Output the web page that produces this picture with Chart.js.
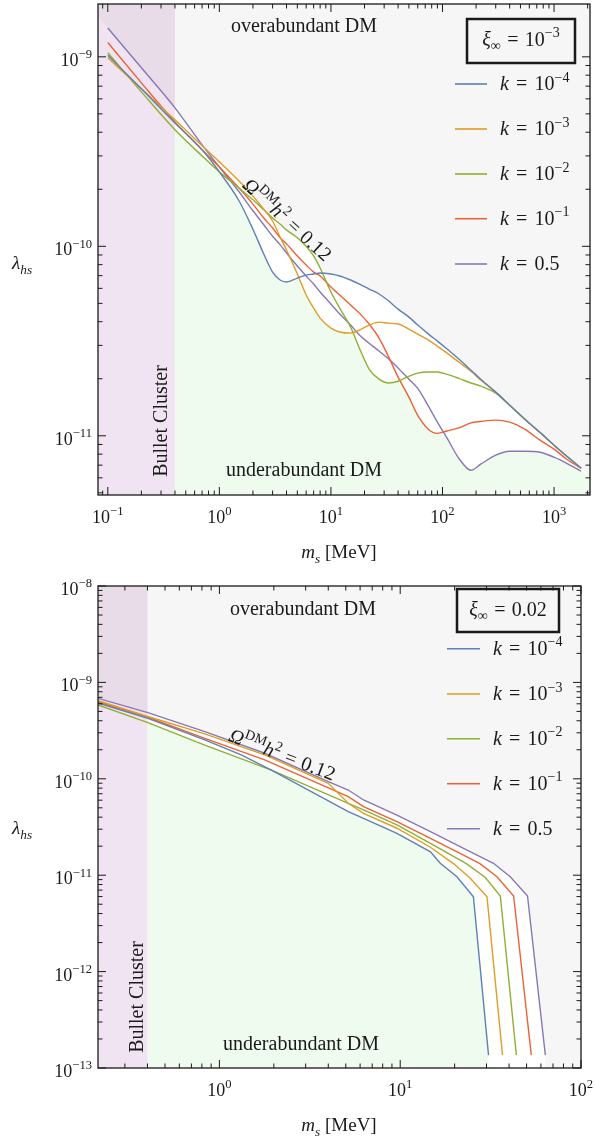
<!DOCTYPE html>
<html>
<head>
<meta charset="utf-8">
<script src="https://cdn.jsdelivr.net/npm/chart.js@4.4.0/dist/chart.umd.min.js"></script>
<style>
  html, body { margin: 0; padding: 0; background: #fff; }
  #wrap { position: relative; width: 595px; height: 1139px; }
  canvas { position: absolute; left: 0; }
</style>
</head>
<body>
<div id="wrap">
  <canvas id="top" width="595" height="565" style="top:0;width:595px;height:565px"></canvas>
  <canvas id="bottom" width="595" height="574" style="top:565px;width:595px;height:574px"></canvas>
</div>
<script>
// legend values of k and line colours
const kLabels = ["1e-4", "1e-3", "1e-2", "1e-1", "0.5"];
const lineColors = ["#5E81B5", "#E19C24", "#8FB032", "#EB6235", "#8778B3"];
const bulletMax = 0.4; // MeV, bullet cluster bound

// --- xi_inf = 1e-3 (top) ---
const massTop = [0.1, 0.2, 0.4, 0.7, 1, 1.5, 2, 2.5, 3, 3.5, 4, 5, 6, 7, 8, 10, 12, 15, 18, 22, 27, 33, 40, 50, 60, 75, 90, 110, 140, 180, 220, 300, 400, 550, 750, 1000, 1300, 1750];
const lamTopK4 = [1.02e-9, 6.78e-10, 4.48e-10, 3.23e-10, 2.47e-10, 1.74e-10, 1.23e-10, 9.11e-11, 7.31e-11, 6.64e-11, 6.48e-11, 6.80e-11, 7.05e-11, 7.14e-11, 7.23e-11, 7.14e-11, 6.97e-11, 6.64e-11, 6.32e-11, 5.95e-11, 5.60e-11, 5.14e-11, 4.66e-11, 4.23e-11, 3.84e-11, 3.44e-11, 3.16e-11, 2.87e-11, 2.54e-11, 2.22e-11, 1.99e-11, 1.70e-11, 1.45e-11, 1.22e-11, 1.04e-11, 8.92e-12, 7.80e-12, 6.74e-12];
const lamTopK3 = [9.88e-10, 6.78e-10, 4.65e-10, 3.39e-10, 2.79e-10, 2.21e-10, 1.84e-10, 1.57e-10, 1.36e-10, 1.12e-10, 9.56e-11, 7.14e-11, 5.53e-11, 4.72e-11, 4.18e-11, 3.70e-11, 3.53e-11, 3.48e-11, 3.61e-11, 3.84e-11, 3.98e-11, 3.93e-11, 3.89e-11, 3.66e-11, 3.44e-11, 3.20e-11, 2.97e-11, 2.73e-11, 2.45e-11, 2.19e-11, 1.97e-11, 1.70e-11, 1.45e-11, 1.22e-11, 1.04e-11, 8.92e-12, 7.80e-12, 6.74e-12];
const lamTopK2 = [1.05e-9, 6.53e-10, 4.12e-10, 3.00e-10, 2.47e-10, 2.03e-10, 1.76e-10, 1.56e-10, 1.41e-10, 1.31e-10, 1.22e-10, 1.11e-10, 1.00e-10, 8.89e-11, 7.68e-11, 5.74e-11, 4.72e-11, 3.75e-11, 2.90e-11, 2.25e-11, 1.99e-11, 1.90e-11, 1.94e-11, 2.06e-11, 2.14e-11, 2.17e-11, 2.17e-11, 2.11e-11, 2.01e-11, 1.90e-11, 1.83e-11, 1.68e-11, 1.45e-11, 1.22e-11, 1.04e-11, 8.92e-12, 7.80e-12, 6.74e-12];
const lamTopK1 = [1.19e-9, 7.29e-10, 4.53e-10, 3.23e-10, 2.62e-10, 2.03e-10, 1.67e-10, 1.41e-10, 1.25e-10, 1.11e-10, 1.03e-10, 8.89e-11, 7.96e-11, 7.31e-11, 6.97e-11, 6.10e-11, 5.53e-11, 4.90e-11, 4.44e-11, 3.89e-11, 3.28e-11, 2.60e-11, 2.04e-11, 1.60e-11, 1.28e-11, 1.08e-11, 1.03e-11, 1.06e-11, 1.10e-11, 1.17e-11, 1.19e-11, 1.21e-11, 1.18e-11, 1.08e-11, 9.48e-12, 8.50e-12, 7.52e-12, 6.74e-12];
const lamTopK05 = [1.42e-9, 8.75e-10, 5.38e-10, 3.43e-10, 2.62e-10, 1.94e-10, 1.54e-10, 1.30e-10, 1.13e-10, 1.02e-10, 9.22e-11, 7.87e-11, 6.97e-11, 6.32e-11, 5.74e-11, 4.96e-11, 4.39e-11, 3.84e-11, 3.40e-11, 3.08e-11, 2.80e-11, 2.54e-11, 2.28e-11, 1.99e-11, 1.78e-11, 1.43e-11, 1.18e-11, 9.71e-12, 7.61e-12, 6.58e-12, 7.08e-12, 7.90e-12, 8.29e-12, 8.29e-12, 8.19e-12, 7.71e-12, 7.16e-12, 6.50e-12];
const xTicksTop = [0.1, 1, 10, 100, 1000];
const yTicksTop = [1e-9, 1e-10, 1e-11];

// --- xi_inf = 0.02 (bottom) ---
const massBotK4 = [0.213, 0.402, 0.83, 1.32, 1.94, 5.16, 6.27, 9.59, 14.7, 16.65, 20.6, 25.4, 30.8];
const lamBotK4 = [6.11e-10, 4.24e-10, 2.53e-10, 1.77e-10, 1.23e-10, 4.56e-11, 3.89e-11, 2.72e-11, 1.75e-11, 1.33e-11, 9.65e-12, 5.98e-12, 1.36e-13];
const massBotK3 = [0.213, 0.402, 0.83, 1.78, 4.0, 5.16, 6.27, 9.59, 14.7, 19.7, 24.4, 30.2, 36.8];
const lamBotK3 = [6.46e-10, 4.43e-10, 2.92e-10, 1.77e-10, 8.98e-11, 5.57e-11, 4.39e-11, 3.07e-11, 1.95e-11, 1.32e-11, 9.29e-12, 5.98e-12, 1.36e-13];
const massBotK2 = [0.213, 0.402, 0.83, 1.94, 5.16, 6.27, 9.59, 14.7, 23.2, 29.5, 35.8, 43.9];
const lamBotK2 = [5.83e-10, 3.82e-10, 2.24e-10, 1.23e-10, 5.57e-11, 4.75e-11, 3.32e-11, 2.14e-11, 1.32e-11, 9.51e-12, 6.08e-12, 1.36e-13];
const massBotK1 = [0.213, 0.402, 0.83, 1.78, 5.16, 6.27, 9.59, 14.7, 22.4, 27.6, 34.3, 42.4, 53.1];
const lamBotK1 = [6.31e-10, 4.35e-10, 2.63e-10, 1.57e-10, 6.52e-11, 5.14e-11, 3.59e-11, 2.41e-11, 1.62e-11, 1.32e-11, 9.65e-12, 6.08e-12, 1.36e-13];
const massBotK05 = [0.213, 0.402, 0.83, 1.78, 4.0, 5.16, 6.27, 9.59, 14.7, 22.4, 32.8, 40.6, 50.6, 63.5];
const lamBotK05 = [6.84e-10, 4.85e-10, 3.08e-10, 1.84e-10, 9.33e-11, 7.65e-11, 6.03e-11, 4.21e-11, 2.83e-11, 1.90e-11, 1.33e-11, 9.65e-12, 6.08e-12, 1.36e-13];
const xTicksBot = [1, 10, 100];
const yTicksBot = [1e-8, 1e-9, 1e-10, 1e-11, 1e-12, 1e-13];

const FONT = "'Liberation Serif', 'DejaVu Serif', serif";
const INK = "#1a1a1a";

// draws a row of text pieces (italic / sup / sub), numbers are gaps in em
function rich(ctx, parts, x, y, align, size) {
  const segs = parts.map(p => {
    if (typeof p === "number") return { gap: p * size };
    const s = size * (p.sup || p.sub ? 0.7 : 1);
    const font = (p.i ? "italic " : "") + s + "px " + FONT;
    ctx.font = font;
    return { t: p.t, font, w: ctx.measureText(p.t).width, dy: p.sup ? -size * 0.42 : p.sub ? size * 0.24 : 0 };
  });
  const total = segs.reduce((a, s) => a + (s.gap !== undefined ? s.gap : s.w), 0);
  let cx = align === "center" ? x - total / 2 : align === "right" ? x - total : x;
  ctx.textAlign = "left";
  ctx.textBaseline = "alphabetic";
  segs.forEach(s => {
    if (s.gap !== undefined) { cx += s.gap; return; }
    ctx.font = s.font;
    ctx.fillText(s.t, cx, y + s.dy);
    cx += s.w;
  });
}

function expParts(v) {
  const e = Math.round(Math.log10(v));
  return [{ t: "10" }, { t: (e < 0 ? "\u2212" + (-e) : String(e)), sup: 1 }];
}

function kParts(lbl) {
  const head = [{ t: "k", i: 1 }, 0.36, { t: "=" }, 0.36];
  if (lbl.startsWith("1e")) return head.concat([{ t: "10" }, { t: "\u2212" + lbl.slice(3), sup: 1 }]);
  return head.concat([{ t: lbl }]);
}

function logInterp(xs, ys, x) {
  if (x < xs[0] || x > xs[xs.length - 1]) return null;
  for (let i = 0; i < xs.length - 1; i++) {
    if (x >= xs[i] && x <= xs[i + 1]) {
      const t = Math.log(x / xs[i]) / Math.log(xs[i + 1] / xs[i]);
      return Math.exp(Math.log(ys[i]) + t * Math.log(ys[i + 1] / ys[i]));
    }
  }
  return ys[ys.length - 1];
}

// carry the last slope of an edge out to a given x (log-log)
function extend(p, q, x) {
  const t = Math.log(x / p.x) / Math.log(q.x / p.x);
  return { x, y: Math.exp(Math.log(p.y) + t * Math.log(q.y / p.y)) };
}

// upper / lower edge of the bundle of curves
function envelope(series, upper, fromX, span) {
  let grid = [];
  series.forEach(s => grid.push(...s.x));
  if (fromX) grid.push(fromX);
  grid = [...new Set(grid)].sort((p, q) => p - q);
  const pts = [];
  grid.forEach(x => {
    if (fromX && x < fromX) return;
    const vals = series.map(s => logInterp(s.x, s.y, x));
    if (!upper && vals.some(v => v === null)) return;
    const ok = vals.filter(v => v !== null);
    if (!ok.length) return;
    pts.push({ x, y: upper ? Math.max(...ok) : Math.min(...ok) });
  });
  if (span) {
    const n = pts.length;
    if (!fromX && span[0] < pts[0].x) pts.unshift(extend(pts[0], pts[1], span[0]));
    if (span[1] > pts[n - 1].x) pts.push(extend(pts[n - 2], pts[n - 1], span[1]));
  }
  return pts;
}

const decor = {
  top: {
    over: [304, 32], under: [304, 476], bullet: [167, 421],
    omega: [287, 220, 42.5],
    box: [467, 19, 575, 63], title: [{ t: "\u03BE", i: 1 }, { t: "\u221E", sub: 1 }, 0.32, { t: "=" }, 0.32, { t: "10" }, { t: "\u22123", sup: 1 }],
    titleY: 45.5, legX: [455, 487], legY: [84, 129, 174, 218.7, 264], legTextX: 500,
    xTicks: xTicksTop, yTicks: yTicksTop, xTitleX: 339, lamY: 269
  },
  bottom: {
    over: [303, 49.5], under: [301, 485], bullet: [143, 432],
    omega: [282, 190, 21],
    box: [457, 24, 559, 67], title: [{ t: "\u03BE", i: 1 }, { t: "\u221E", sub: 1 }, 0.32, { t: "=" }, 0.32, { t: "0.02" }],
    titleY: 50.5, legX: [447, 480], legY: [83.7, 129, 173.7, 218.7, 263.7], legTextX: 493,
    xTicks: xTicksBot, yTicks: yTicksBot, xTitleX: 339, lamY: 269
  }
};

function line(ctx, x1, y1, x2, y2) {
  ctx.beginPath(); ctx.moveTo(x1, y1); ctx.lineTo(x2, y2); ctx.stroke();
}

function drawTicks(ctx, scale, a, horizontal) {
  for (let e = Math.floor(Math.log10(scale.min)); e <= Math.ceil(Math.log10(scale.max)); e++) {
    for (let m = 1; m <= 9; m++) {
      const v = m * Math.pow(10, e);
      if (v < scale.min * 0.999 || v > scale.max * 1.001) continue;
      const p = scale.getPixelForValue(v);
      const len = m === 1 ? 8 : 4.5;
      if (horizontal) { line(ctx, p, a.bottom, p, a.bottom - len); line(ctx, p, a.top, p, a.top + len); }
      else { line(ctx, a.left, p, a.left + len, p); line(ctx, a.right, p, a.right - len, p); }
    }
  }
}

const panelDecor = {
  id: "panelDecor",
  beforeDatasetsDraw(chart) {
    const a = chart.chartArea, ctx = chart.ctx;
    ctx.save();
    ctx.fillStyle = "#f6f6f6";
    ctx.fillRect(a.left, a.top, a.right - a.left, a.bottom - a.top);
    ctx.restore();
  },
  afterDatasetDraw(chart, args) {
    if (chart.data.datasets[args.index].role !== "lower") return;
    const a = chart.chartArea, ctx = chart.ctx;
    const xb = chart.scales.x.getPixelForValue(bulletMax);
    ctx.save();
    ctx.globalCompositeOperation = "multiply";
    ctx.fillStyle = "#f1e4f2";
    ctx.fillRect(a.left, a.top, xb - a.left, a.bottom - a.top);
    ctx.restore();
  },
  afterDatasetsDraw(chart) {
    const d = decor[chart.canvas.id];
    const a = chart.chartArea, ctx = chart.ctx;
    const xs = chart.scales.x, ys = chart.scales.y;
    ctx.save();
    ctx.fillStyle = INK;
    ctx.strokeStyle = INK;

    rich(ctx, [{ t: "overabundant DM" }], d.over[0], d.over[1], "center", 20);
    rich(ctx, [{ t: "underabundant DM" }], d.under[0], d.under[1], "center", 20);

    ctx.save();
    ctx.translate(d.bullet[0], d.bullet[1]);
    ctx.rotate(-Math.PI / 2);
    rich(ctx, [{ t: "Bullet Cluster" }], 0, 0, "center", 20);
    ctx.restore();

    ctx.save();
    ctx.translate(d.omega[0], d.omega[1]);
    ctx.rotate(d.omega[2] * Math.PI / 180);
    rich(ctx, [{ t: "\u03A9", i: 1 }, { t: "DM", sup: 1 }, { t: "h", i: 1 }, { t: "2", sup: 1 }, 0.3, { t: "=" }, 0.3, { t: "0.12" }], 0, 6, "center", 20);
    ctx.restore();

    // legend
    const b = d.box;
    ctx.lineWidth = 2.5;
    ctx.strokeRect(b[0], b[1], b[2] - b[0], b[3] - b[1]);
    rich(ctx, d.title, (b[0] + b[2]) / 2, d.titleY, "center", 20);
    d.legY.forEach((y, i) => {
      ctx.strokeStyle = lineColors[i];
      ctx.lineWidth = 1.6;
      line(ctx, d.legX[0], y, d.legX[1], y);
      rich(ctx, kParts(kLabels[i]), d.legTextX, y + 6, "left", 20);
    });

    // frame and ticks
    ctx.strokeStyle = INK;
    ctx.lineWidth = 1;
    drawTicks(ctx, xs, a, true);
    drawTicks(ctx, ys, a, false);
    ctx.lineWidth = 1.3;
    ctx.strokeRect(a.left, a.top, a.right - a.left, a.bottom - a.top);

    d.xTicks.forEach(v => rich(ctx, expParts(v), xs.getPixelForValue(v), a.bottom + 28, "center", 18));
    d.yTicks.forEach(v => rich(ctx, expParts(v), 92, ys.getPixelForValue(v) + 9, "right", 18));

    rich(ctx, [{ t: "m", i: 1 }, { t: "s", i: 1, sub: 1 }, 0.25, { t: "[MeV]" }], d.xTitleX, a.bottom + 63, "center", 19);
    rich(ctx, [{ t: "\u03BB", i: 1 }, { t: "hs", i: 1, sub: 1 }], 12, d.lamY, "left", 19);
    ctx.restore();
  }
};

function makePanel(id, series, smooth, xr, yr, pad) {
  const mode = smooth ? "monotone" : "default";
  const datasets = series.map((s, i) => ({
    data: s.x.map((m, j) => ({ x: m, y: s.y[j] })),
    borderColor: lineColors[i],
    borderWidth: 1.4,
    pointRadius: 0,
    fill: false,
    cubicInterpolationMode: mode,
    tension: 0,
    order: i
  }));
  // the shaded regions follow the bundle edges out to the frame when smooth
  const span = smooth ? xr : null;
  datasets.push({
    role: "upper", data: envelope(series, true, null, span),
    borderColor: "rgba(0,0,0,0)", borderWidth: 0, pointRadius: 0,
    fill: "start", backgroundColor: "#ffffff", cubicInterpolationMode: mode, order: 20
  });
  datasets.push({
    role: "lower", data: envelope(series, false, bulletMax, span),
    borderColor: "rgba(0,0,0,0)", borderWidth: 0, pointRadius: 0,
    fill: "start", backgroundColor: "#f0fbf0", cubicInterpolationMode: mode, order: 19
  });
  return new Chart(document.getElementById(id), {
    type: "line",
    data: { datasets },
    options: {
      responsive: false,
      animation: false,
      layout: { padding: pad },
      scales: {
        x: { type: "logarithmic", min: xr[0], max: xr[1], display: false },
        y: { type: "logarithmic", min: yr[0], max: yr[1], display: false }
      },
      plugins: { legend: { display: false }, tooltip: { enabled: false } }
    },
    plugins: [panelDecor]
  });
}

makePanel("top", [
  { x: massTop, y: lamTopK4 },
  { x: massTop, y: lamTopK3 },
  { x: massTop, y: lamTopK2 },
  { x: massTop, y: lamTopK1 },
  { x: massTop, y: lamTopK05 }
], true, [0.0817, 2100], [4.87e-12, 1.9e-9], { left: 98, right: 5, top: 4, bottom: 70 });

makePanel("bottom", [
  { x: massBotK4, y: lamBotK4 },
  { x: massBotK3, y: lamBotK3 },
  { x: massBotK2, y: lamBotK2 },
  { x: massBotK1, y: lamBotK1 },
  { x: massBotK05, y: lamBotK05 }
], false, [0.213, 100], [1e-13, 1e-8], { left: 98, right: 14, top: 21, bottom: 71 });
</script>
</body>
</html>
